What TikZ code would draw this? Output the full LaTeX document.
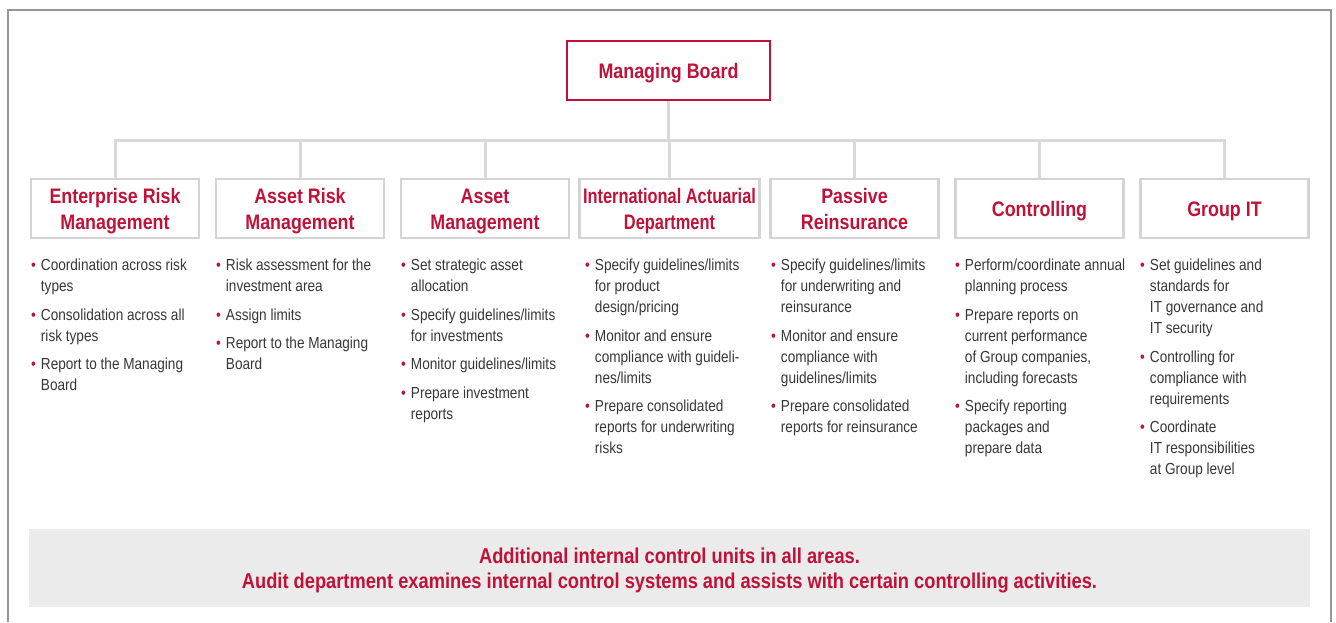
\documentclass[tikz,border=0pt]{standalone}
\usepackage{fontspec}
\setmainfont{Liberation Sans}[FakeStretch=0.85]
\newfontfamily\narrowsans{Liberation Sans}[FakeStretch=0.78]
\usepackage{tikz}
\usetikzlibrary{calc}
\definecolor{hred}{RGB}{192,18,57}
\definecolor{linegray}{RGB}{217,217,217}
\definecolor{boxgray}{RGB}{212,212,212}
\definecolor{txtgray}{RGB}{55,55,55}
\definecolor{bandgray}{RGB}{235,235,235}
\definecolor{framegray}{RGB}{150,150,150}
\newcommand{\unitfont}{\fontsize{21}{26}\selectfont\bfseries}
\newcommand{\listfont}{\fontsize{16}{21}\selectfont}
\newcommand{\bandfont}{\fontsize{21.5}{25}\selectfont\bfseries}
\newcommand{\rbul}{{\color{hred}\textbullet}}

\begin{document}
\begin{tikzpicture}[x=1pt, y=-1pt,
	unit/.style={draw=boxgray, line width=2.5pt, text width=164pt, minimum height=59pt, inner sep=2pt, text=hred, font=\unitfont, align=flush center,
		execute at begin node={\rule{0pt}{21.3pt}}, execute at end node={\rule[-4.5pt]{0pt}{4.5pt}}},
	board/.style={unit, draw=hred, line width=2pt, text width=199pt},
	conn/.style={draw=linegray, line width=3pt},
	tasks/.style={anchor=north west, inner sep=0pt, text=txtgray, font=\listfont},
	band/.style={fill=bandgray, text width=1275pt, minimum height=78pt, text=hred, font=\bandfont, align=flush center,
		execute at begin node={\rule{0pt}{20pt}}, execute at end node={\rule[-4.5pt]{0pt}{4.5pt}}}]
		\useasboundingbox (0,0) rectangle (1336,622);
		\draw[framegray, line width=1.5pt] (8,622) -- (8,10) -- (1331,10) -- (1331,622);
		
		\draw (668.5,70.5) node[board] (mb) {Managing Board};
		
		\draw (115,208.5) node[unit] (e1) {Enterprise Risk\\Management};
		\draw (300,208.5) node[unit] (e2) {Asset Risk\\Management};
		\draw (485,208.5) node[unit] (e3) {Asset\\Management};
		\draw (669.5,208.5) node[unit, text width=176pt] (e4) {\narrowsans International Actuarial\\Department};
		\draw (854.5,208.5) node[unit] (e5) {Passive\\Reinsurance};
		\draw (1039.5,208.5) node[unit] (e6) {Controlling};
		\draw (1224.5,208.5) node[unit] (e7) {Group IT};
		
		% bus line below the board
		\coordinate (bus) at (0,140);
		\draw[conn] (mb.south) -- (mb.south |- bus);
		\draw[conn] ($(e1.north |- bus)+(-1.5,0)$) -- ($(e7.north |- bus)+(1.5,0)$);
		\foreach \i in {1,...,7}
			\draw[conn] (e\i.north) -- (e\i.north |- bus);
		
		\draw (31,256) node[tasks] (l1) {\begin{tabular}{@{}l@{\hspace{5pt}}l@{}}
			\rbul & Coordination across risk\\ & types\\[7.5pt]
			\rbul & Consolidation across all\\ & risk types\\[7.5pt]
			\rbul & Report to the Managing\\ & Board
		\end{tabular}};
		\draw (216,256) node[tasks] (l2) {\begin{tabular}{@{}l@{\hspace{5pt}}l@{}}
			\rbul & Risk assessment for the\\ & investment area\\[7.5pt]
			\rbul & Assign limits\\[7.5pt]
			\rbul & Report to the Managing\\ & Board
		\end{tabular}};
		\draw (401,256) node[tasks] (l3) {\begin{tabular}{@{}l@{\hspace{5pt}}l@{}}
			\rbul & Set strategic asset\\ & allocation\\[7.5pt]
			\rbul & Specify guidelines/limits\\ & for investments\\[7.5pt]
			\rbul & Monitor guidelines/limits\\[7.5pt]
			\rbul & Prepare investment\\ & reports
		\end{tabular}};
		\draw (585,256) node[tasks] (l4) {\begin{tabular}{@{}l@{\hspace{5pt}}l@{}}
			\rbul & Specify guidelines/limits\\ & for product\\ & design/pricing\\[7.5pt]
			\rbul & Monitor and ensure\\ & compliance with guideli-\\ & nes/limits\\[7.5pt]
			\rbul & Prepare consolidated\\ & reports for underwriting\\ & risks
		\end{tabular}};
		\draw (771,256) node[tasks] (l5) {\begin{tabular}{@{}l@{\hspace{5pt}}l@{}}
			\rbul & Specify guidelines/limits\\ & for underwriting and\\ & reinsurance\\[7.5pt]
			\rbul & Monitor and ensure\\ & compliance with\\ & guidelines/limits\\[7.5pt]
			\rbul & Prepare consolidated\\ & reports for reinsurance
		\end{tabular}};
		\draw (955,256) node[tasks] (l6) {\begin{tabular}{@{}l@{\hspace{5pt}}l@{}}
			\rbul & Perform/coordinate annual\\ & planning process\\[7.5pt]
			\rbul & Prepare reports on\\ & current performance\\ & of Group companies,\\ & including forecasts\\[7.5pt]
			\rbul & Specify reporting\\ & packages and\\ & prepare data
		\end{tabular}};
		\draw (1140,256) node[tasks] (l7) {\begin{tabular}{@{}l@{\hspace{5pt}}l@{}}
			\rbul & Set guidelines and\\ & standards for\\ & IT governance and\\ & IT security\\[7.5pt]
			\rbul & Controlling for\\ & compliance with\\ & requirements\\[7.5pt]
			\rbul & Coordinate\\ & IT responsibilities\\ & at Group level
		\end{tabular}};
		
		\draw (669.5,568) node[band] (audit) {Additional internal control units in all areas.\\Audit department examines internal control systems and assists with certain controlling activities.};
	\end{tikzpicture}
\end{document}
